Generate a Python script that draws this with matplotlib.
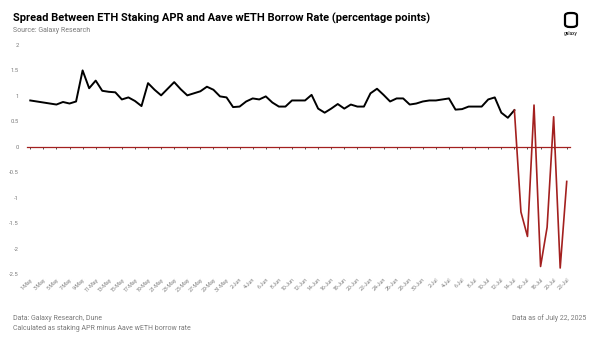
import matplotlib.pyplot as plt
from matplotlib.patches import FancyBboxPatch
import pandas as pd

# daily spread, 1-May to 22-Jul 2025 (percentage points)
dates = pd.date_range("2025-05-01", "2025-07-22", freq="D")
spread = [0.91, 0.89, 0.87, 0.85, 0.83, 0.88, 0.85, 0.89, 1.50, 1.15,
          1.30, 1.10, 1.08, 1.07, 0.93, 0.97, 0.90, 0.80, 1.25, 1.12,
          1.01, 1.14, 1.27, 1.13, 1.01, 1.05, 1.09, 1.18, 1.12, 0.99,
          0.97, 0.78, 0.79, 0.89, 0.95, 0.93, 0.99, 0.87, 0.79, 0.79,
          0.91, 0.91, 0.91, 1.02, 0.75, 0.67, 0.75, 0.84, 0.75, 0.83,
          0.79, 0.79, 1.05, 1.14, 1.02, 0.89, 0.95, 0.95, 0.83, 0.85,
          0.89, 0.91, 0.91, 0.93, 0.95, 0.73, 0.74, 0.79, 0.79, 0.79,
          0.93, 0.97, 0.67, 0.57, 0.72, -1.28, -1.76, 0.82, -2.35, -1.58,
          0.59, -2.38, -0.68]
red_from = 74  # index where the line turns red
yticks = [2, 1.5, 1, 0.5, 0, -0.5, -1, -1.5, -2, -2.5]

title = "Spread Between ETH Staking APR and Aave wETH Borrow Rate (percentage points)"
source = "Source: Galaxy Research"
note1 = "Data: Galaxy Research, Dune"
note2 = "Calculated as staking APR minus Aave wETH borrow rate"
asof = "Data as of July 22, 2025"

RED = "#a3201f"
GREY = "#7a7a7a"
plt.rcParams['font.family'] = ['Roboto', 'DejaVu Sans']

fig = plt.figure(figsize=(6, 3.38), dpi=100)
ax = fig.add_axes([0.045, 0.189, 0.905, 0.678])

x = list(range(len(dates)))
ax.plot(x[:red_from + 1], spread[:red_from + 1], color="black", lw=1.4, zorder=3)
ax.plot(x[red_from:], spread[red_from:], color=RED, lw=1.2, zorder=3)

ax.set_xlim(-0.5, len(dates) - 0.5)
ax.set_ylim(-2.5, 2)
ax.set_yticks(yticks)
ax.set_yticklabels([f"{v:g}" for v in yticks])
ax.tick_params(axis="y", length=0, labelsize=4.2, labelcolor=GREY, pad=6)

# x axis line sits at zero, with small tick marks
ax.spines["bottom"].set_position(("data", 0))
ax.spines["bottom"].set_color(RED)
ax.spines["bottom"].set_linewidth(0.9)
for s in ["top", "right", "left"]:
    ax.spines[s].set_visible(False)
tick_pos = x[::2]
ax.set_xticks(tick_pos)
ax.tick_params(axis="x", length=1.5, width=0.6, color="#333333", labelbottom=False)

# labels at the bottom of the plot
sec = ax.secondary_xaxis("bottom")
sec.set_xticks(tick_pos)
sec.set_xticklabels([f"{d.day}-{d.strftime('%b')}" for d in dates[::2]],
                    rotation=45, ha="right", rotation_mode="anchor")
sec.tick_params(length=0, labelsize=3.8, labelcolor=GREY, pad=2)
sec.spines["bottom"].set_visible(False)

# header / footer text
fig.text(13 / 600, 1 - 18 / 338, title, fontsize=8, fontweight="bold",
         va="center", ha="left")
fig.text(13 / 600, 1 - 30 / 338, source, fontsize=5, color=GREY, va="center")
fig.text(13 / 600, 1 - 318 / 338, note1, fontsize=5, color=GREY, va="center")
fig.text(13 / 600, 1 - 328 / 338, note2, fontsize=5, color=GREY, va="center")
fig.text(586 / 600, 1 - 318 / 338, asof, fontsize=5, color=GREY, va="center",
         ha="right")

# galaxy logo
logo = FancyBboxPatch((565 / 600, 1 - 27 / 338), 12 / 600, 14 / 338,
                      boxstyle="round,pad=0,rounding_size=0.008",
                      transform=fig.transFigure, fill=False, lw=1.6,
                      edgecolor="black")
fig.patches.append(logo)
fig.text(571 / 600, 1 - 33 / 338, "galaxy", fontsize=3.5, ha="center",
         va="center")

plt.savefig("out.png", dpi=100)
plt.close()
